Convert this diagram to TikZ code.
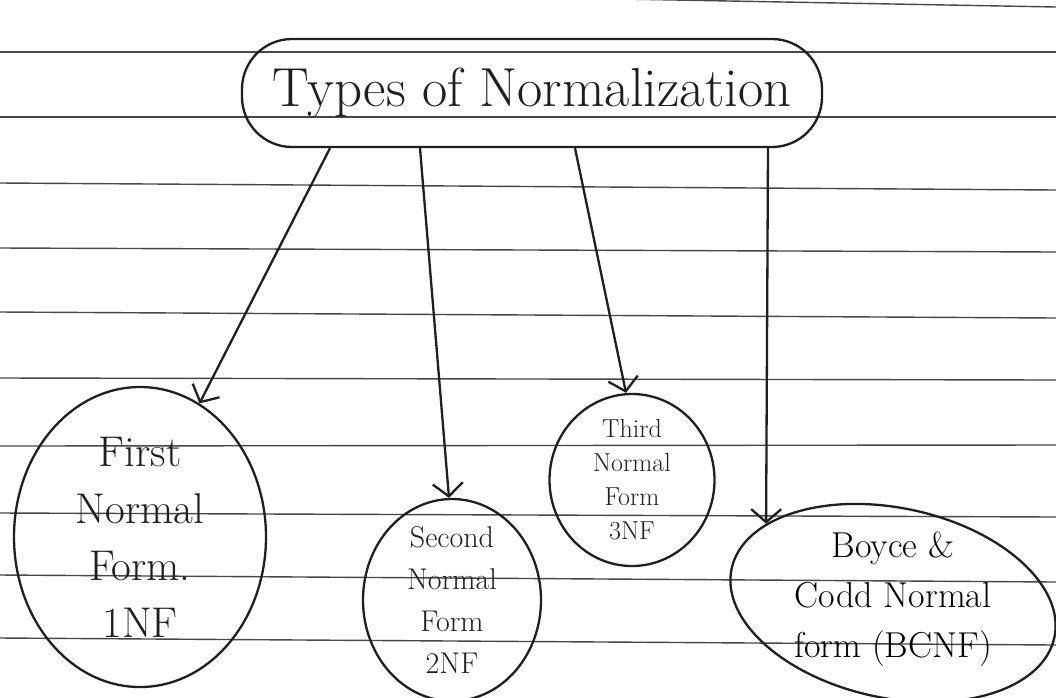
\documentclass[tikz,border=0pt]{standalone}
\usetikzlibrary{shapes.geometric,arrows.meta}
\begin{document}
\begin{tikzpicture}[x=1pt,y=-1pt,
  pen/.style={line width=2.3pt, black!88},
  rule/.style={line width=1.4pt, black!72},
  formshape/.style={ellipse, draw, pen, inner sep=-20pt},
  arr/.style={pen, -{Straight Barb[length=13pt,width=30pt]}}]
\useasboundingbox (0,0) rectangle (1056,697);
\fill[white] (0,0) rectangle (1056,697);
% ruled notebook lines
\draw[rule] (620,-1) -- (1056,7);
\foreach \yl/\yr in {52/52, 117/117, 183/190, 248/252, 312/318, 378/380, 446/445, 513/517, 575/582, 638/645}
  \draw[rule] (0,\yl) -- (1056,\yr);
% title
\node[draw, pen, rounded corners=50pt, minimum width=580pt, minimum height=108pt,
      font=\fontsize{55}{60}\selectfont] (top) at (532,93) {Types of Normalization};
% forms
\node[formshape, minimum width=252pt, minimum height=300pt, align=center,
      font=\fontsize{43}{57}\selectfont] (n1) at (140,537) {First\\Normal\\Form.\\1NF};
\node[formshape, minimum width=178pt, minimum height=202pt, align=center,
      font=\fontsize{30}{42}\selectfont] (n2) at (452,600) {Second\\Normal\\Form\\2NF};
\node[formshape, minimum width=165pt, minimum height=172pt, align=center,
      font=\fontsize{26}{34}\selectfont] (n3) at (632,480) {Third\\Normal\\Form\\3NF};
\node[formshape, rotate=-12, minimum width=330pt, minimum height=190pt] (n4) at (893,603) {};
\node[align=center, font=\fontsize{36}{50}\selectfont] (n4t) at ([yshift=4pt]n4.center) {Boyce \&\\Codd Normal\\form (BCNF)};
% connectors
\draw[arr] ([xshift=-202pt]top.south) -- (n1.66);
\draw[arr] ([xshift=-112pt]top.south) -- ([xshift=-3pt]n2.north);
\draw[arr] ([xshift=43pt]top.south) -- ([xshift=-6pt]n3.north);
\draw[arr] ([xshift=236pt]top.south) -- (n4.160);
\end{tikzpicture}
\end{document}
